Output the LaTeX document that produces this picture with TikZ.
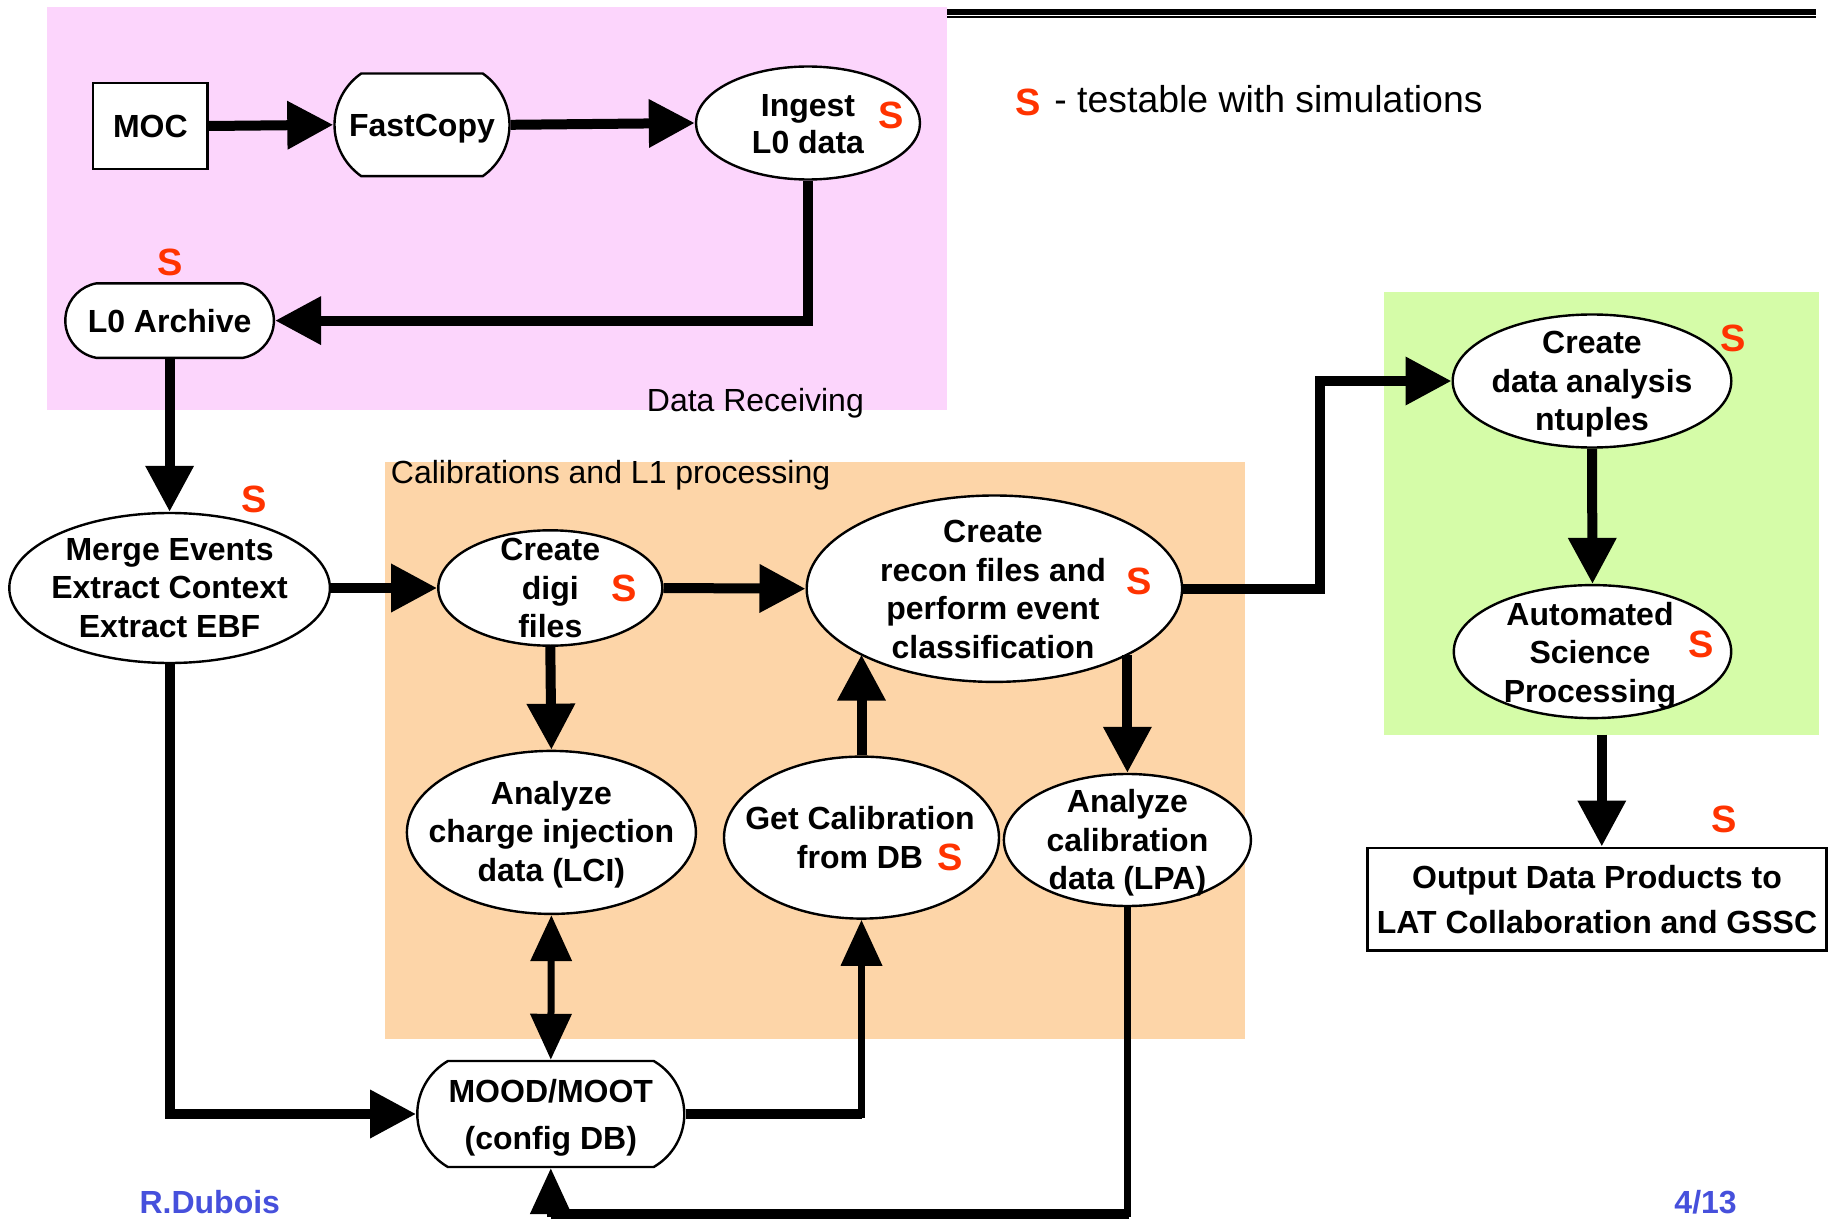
\documentclass[tikz,border=0pt]{standalone}
\usepackage{fontspec}
\setmainfont{Liberation Sans}
\usetikzlibrary{arrows.meta,shapes.geometric,shapes.misc,calc}
\definecolor{pinkbg}{RGB}{252,213,252}
\definecolor{peachbg}{RGB}{253,213,168}
\definecolor{greenbg}{RGB}{213,252,168}
\definecolor{sred}{RGB}{255,51,0}
\definecolor{authblue}{RGB}{70,80,220}
\begin{document}
\begin{tikzpicture}[x=0.5pt,y=-0.5pt,
  ell/.style={ellipse, draw, fill=white, line width=1.2pt, inner sep=0pt},
  rbox/.style={rounded rectangle, draw, fill=white, line width=1.2pt, inner sep=0pt},
  sbox/.style={rectangle, draw, fill=white, line width=1.2pt, inner sep=0pt},
  txt/.style={font=\fontsize{16}{19.25}\selectfont\bfseries, align=center, inner sep=0pt},
  sm/.style={text=sred, font=\fontsize{19}{19}\selectfont\bfseries, inner sep=0pt},
  plain/.style={font=\fontsize{16}{18}\selectfont, inner sep=0pt},
  flow/.style={line width=5pt, -{Triangle[length=23pt,width=23pt]}},
  thinflow/.style={line width=3.5pt, -{Triangle[length=23pt,width=20pt]}},
  bothflow/.style={line width=3.5pt, {Triangle[length=23pt,width=20pt]}-{Triangle[length=23pt,width=20pt]}}
]
\useasboundingbox (0,0) rectangle (1828,1220);
\fill[white] (0,0) rectangle (1828,1220);

% backgrounds
\fill[pinkbg] (46.6,7) rectangle (946.6,410.4);
\fill[peachbg] (384.7,461.7) rectangle (1245,1038.7);
\fill[greenbg] (1383.8,291.5) rectangle (1818.7,734.5);

% top rule
\draw[line width=3pt] (947,12) -- (1816,12);
\draw[line width=1pt] (947,17.5) -- (1816,17.5);

% region labels
\node[plain] (drlabel) at (755.4,403) {Data Receiving};
\node[plain, anchor=west] (callabel) at (390.5,475.5) {Calibrations and L1 processing};

% nodes
\node[sbox, minimum width=57.2pt, minimum height=43pt] (moc) at (150.4,126) {};
\node[rbox, rounded rectangle arc length=110, minimum width=87.5pt, minimum height=51.3pt] (fast) at (422,124.8) {};
\node[ell, minimum width=112pt, minimum height=56.5pt] (ingest) at (808,123) {};
\node[rbox, rounded rectangle arc length=160, minimum width=104.3pt, minimum height=37.3pt] (l0) at (169.6,320.6) {};
\node[ell, minimum width=160.3pt, minimum height=75pt] (merge) at (169.6,588) {};
\node[ell, minimum width=112pt, minimum height=57.7pt] (digi) at (550.3,588) {};
\node[ell, minimum width=187.7pt, minimum height=93.2pt] (recon) at (994.4,588.7) {};
\node[ell, minimum width=144.5pt, minimum height=81.5pt] (lci) at (551.4,832.4) {};
\node[ell, minimum width=137.5pt, minimum height=81pt] (getcal) at (861.5,837.6) {};
\node[ell, minimum width=123.5pt, minimum height=66pt] (lpa) at (1127.4,840) {};
\node[rbox, rounded rectangle arc length=120, minimum width=133.5pt, minimum height=53pt] (mood) at (550.8,1114) {};
\node[ell, minimum width=139.3pt, minimum height=66.5pt] (ntuples) at (1592,381) {};
\node[ell, minimum width=138.7pt, minimum height=66.5pt] (asp) at (1592.5,651.6) {};
\node[sbox, minimum width=229.5pt, minimum height=51.3pt] (output) at (1597,899) {};

% texts
\node[txt] (moc-t) at (moc) {MOC};
\node[txt] (fast-t) at (422,128.3) {FastCopy};
\node[txt, font=\fontsize{16}{18.6}\selectfont\bfseries] (ingest-t) at (808,124.5) {Ingest\\L0 data};
\node[txt] (l0-t) at (l0) {L0 Archive};
\node[txt] (merge-t) at (169.6,588) {Merge Events\\Extract Context\\Extract EBF};
\node[txt] (digi-t) at (550.3,588) {Create\\digi\\files};
\node[txt] (recon-t) at (993,589.5) {Create\\recon files and\\perform event\\classification};
\node[txt] (lci-t) at (551.4,834.7) {Analyze\\charge injection\\data (LCI)};
\node[txt] (getcal-t) at (860,837.6) {Get Calibration\\from DB};
\node[txt] (lpa-t) at (1127.4,842.8) {Analyze\\calibration\\data (LPA)};
\node[txt, font=\fontsize{16}{23.3}\selectfont\bfseries] (mood-t) at (550.8,1117.5) {MOOD/MOOT\\(config DB)};
\node[txt] (ntuples-t) at (1592,384.5) {Create\\data analysis\\ntuples};
\node[txt] (asp-t) at (1590,655.5) {Automated\\Science\\Processing};
\node[txt, font=\fontsize{16}{22.75}\selectfont\bfseries] (output-t) at (1597,899.5) {Output Data Products to\\LAT Collaboration and GSSC};

% S markers
\node[sm] (s-ingest) at (890.7,115.4) {S};
\node[sm] (s-l0) at (170,262) {S};
\node[sm] (s-merge) at (254,499) {S};
\node[sm] (s-digi) at (623.7,588.7) {S};
\node[sm] (s-recon) at (1139,581.7) {S};
\node[sm] (s-getcal) at (950,857) {S};
\node[sm] (s-ntuples) at (1733.5,338) {S};
\node[sm] (s-asp) at (1701,644.7) {S};
\node[sm] (s-output) at (1724,819.6) {S};
\node[sm] (s-legend) at (1028,102.6) {S};
\node[plain, anchor=west, font=\fontsize{18.7}{20}\selectfont] (legend) at (1054,99) {- testable with simulations};

% footer
\node[txt, text=authblue] (author) at (209.8,1202) {R.Dubois};
\node[txt, text=authblue] (page) at (1705.6,1202) {4/13};

% connectors
\coordinate (aspout) at (1601.8,734.5);
\draw[flow] (moc.east) -- (fast.west);
\draw[flow] (fast.east) -- (ingest.west);
\draw[flow] (ingest.south) |- (l0.east);
\draw[flow] (l0.south) -- (merge.north);
\draw[flow] (merge.east) -- (digi.west);
\draw[flow] (digi.east) -- (recon.west);
\draw[flow] (digi.south) -- (lci.north);
\draw[flow] (recon.east) -- ($(recon.east)+(136.5,0)$) |- (ntuples.west);
\draw[flow] (lpa.north |- recon.-26.3) -- (lpa.north);
\draw[flow] (getcal.north) -- (getcal.north |- recon.206.3);
\draw[thinflow] (mood.east) -| (getcal.south);
\draw[line width=5pt] (mood.east) -- (mood.east -| getcal.south);
\draw[bothflow] (lci.south) -- (mood.north);
\draw[flow] (merge.south) |- (mood.west);
\draw[thinflow] (lpa.south) -- ($(lpa.south |- mood.south)+(0,45.5)$) -| (mood.south);
\draw[line width=5pt] ($(lpa.south |- mood.south)+(1.75,45.5)$) -- ($(mood.south)+(0,45.5)$);
\draw[flow] (ntuples.south) -- (asp.north);
\draw[flow] (aspout) -- (aspout |- output.north);
\end{tikzpicture}
\end{document}
